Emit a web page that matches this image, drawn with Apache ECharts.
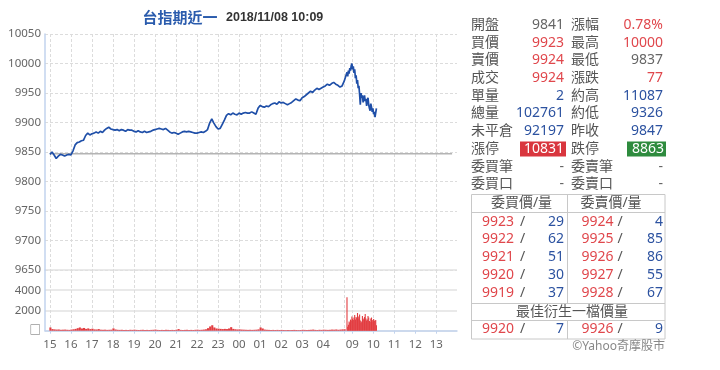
<!DOCTYPE html>
<html><head><meta charset="utf-8">
<script src="https://cdn.jsdelivr.net/npm/echarts@6/dist/echarts.min.js"></script>
<style>html,body{margin:0;padding:0;background:#fff}#c{width:720px;height:370px}</style>
</head><body><div id="c"></div>
<script>
// ---------------- data ----------------
const chartTitle = '台指期近一';
const timestamp = '2018/11/08 10:09';
const prevClose = 9847;
const hourLabels = ['15','16','17','18','19','20','21','22','23','00','01','02','03','04','09','10','11','12','13'];
const priceMin = 9650, priceMax = 10050, priceStep = 50;
const volumeTickValues = [0, 2000, 4000];
const volumeTickLabels = ['□', '2000', '4000'];

// night session 15:00 -> 05:00, one sample every 6 minutes
const nightStart = '15:00', nightStep = 6;
const nightPrice = [
 9846,9850,9845,9839,9843,9846,9845,9843,9845,9846,
 9845,9852,9862,9866,9867,9869,9870,9878,9882,9879,
 9881,9882,9884,9882,9885,9883,9887,9890,9892,9889,
 9888,9887,9888,9886,9888,9887,9885,9888,9887,9887,
 9885,9884,9886,9884,9883,9885,9883,9884,9885,9887,
 9888,9889,9890,9889,9888,9890,9887,9884,9882,9883,
 9882,9880,9882,9884,9885,9884,9885,9884,9883,9882,
 9882,9883,9884,9883,9885,9888,9899,9906,9899,9893,
 9889,9890,9897,9904,9912,9915,9913,9916,9914,9913,
 9916,9914,9916,9917,9916,9916,9918,9916,9914,9924,
 9929,9927,9926,9928,9927,9930,9932,9933,9931,9935,
 9933,9934,9932,9930,9932,9934,9937,9940,9938,9937,
 9942,9944,9947,9950,9953,9951,9955,9958,9956,9958,
 9960,9962,9965,9963,9966,9968,9965,9963,9960,9962,
 9970];
const nightVolume = [
 320,160,130,110,120,90,100,110,90,80,
 110,140,180,250,320,220,270,180,230,160,
 200,130,120,160,100,90,100,80,90,100,
 230,120,90,80,90,70,80,70,90,80,
 100,80,70,80,90,70,80,70,80,90,
 110,80,70,80,70,90,80,70,80,70,
 100,160,80,70,80,90,70,80,70,90,
 100,80,90,110,140,250,420,540,320,220,
 200,180,160,180,160,220,350,180,140,120,
 130,110,100,90,80,90,80,90,100,130,
 320,220,110,90,80,70,80,70,80,70,
 80,70,60,70,60,70,80,70,60,70,
 90,80,70,80,90,110,80,70,90,80,
 100,90,80,90,110,100,120,90,110,130,
 140];

// day session from 08:45, one sample every 2 minutes up to 10:09
const dayStart = '08:45', dayStep = 2;
const dayPrice = [
 9985,9978,9988,9983,9992,9988,9996,10000,9990,9995,
 9984,9990,9975,9980,9966,9972,9958,9962,9948,9930,
 9950,9942,9946,9934,9940,9946,9936,9940,9928,9936,
 9942,9930,9924,9920,9932,9926,9918,9924,9914,9918,
 9909,9907,9924];
const dayVolume = [
 3300,400,600,900,800,1100,1000,1400,1200,1050,
 1300,1550,1100,1350,1250,1750,1400,1200,1600,1000,
 750,900,1450,1200,1100,1350,1650,1200,1000,1100,
 1450,1300,950,850,1200,1300,1050,900,1150,1000,
 950,1050,550];

// quote panel
const quoteLeftLabels  = ['開盤','買價','賣價','成交','單量','總量','未平倉','漲停','委買筆','委買口'];
const quoteLeftValues  = ['9841','9923','9924','9924','2','102761','92197','10831','-','-'];
const quoteRightLabels = ['漲幅','最高','最低','漲跌','約高','約低','昨收','跌停','委賣筆','委賣口'];
const quoteRightValues = ['0.78%','10000','9837','77','11087','9326','9847','8863','-','-'];
const bookHeaders = ['委買價/量','委賣價/量'];
const bidPrices = [9923,9922,9921,9920,9919];
const bidVolumes = [29,62,51,30,37];
const askPrices = [9924,9925,9926,9927,9928];
const askVolumes = [4,85,86,55,67];
const bestTitle = '最佳衍生一檔價量';
const bestBid = [9920, 7];
const bestAsk = [9926, 9];
const credit = '©Yahoo奇摩股市';

// ---------------- styles / helpers ----------------
const RED = '#e0474c', BLUE = '#2c52a0', GRAY = '#666', LABEL = '#555';
const leftTones  = [GRAY, RED, RED, RED, BLUE, BLUE, BLUE, 'box', GRAY, GRAY];
const rightTones = [RED, RED, GRAY, RED, BLUE, BLUE, BLUE, 'box', GRAY, GRAY];
const FONT = '"Noto Sans","Noto Sans CJK TC",sans-serif';
const DAY_OFFSET = 848;
function toT(hhmm) {
  const p = hhmm.split(':').map(Number);
  const mins = p[0] * 60 + p[1];
  if (mins >= 900 || mins <= 300) return (mins - 900 + 1440) % 1440;
  return DAY_OFFSET + mins - 525;
}
const labelTicks = hourLabels.map(h => toT(h + ':00'));
const gridTicks = labelTicks.concat([toT('05:00')]).sort((a, b) => a - b);
const labelMap = {};
hourLabels.forEach(h => { labelMap[toT(h + ':00')] = h; });

const n0 = toT(nightStart), d0 = toT(dayStart);
const priceData = nightPrice.map((v, i) => [n0 + i * nightStep, v])
  .concat(dayPrice.map((v, i) => [d0 + i * dayStep, v]));
const nightVolData = nightVolume.map((v, i) => [n0 + i * nightStep, v]);
const dayVolData = dayVolume.map((v, i) => [d0 + i * dayStep, v]);
const sessionEnd = toT('13:45');

function txt(x, y, text, fill, align, font) {
  return { type: 'text', x: x, y: y, silent: true, z: 10,
    style: { text: String(text), fill: fill, font: font || ('14px ' + FONT),
      align: align, verticalAlign: 'middle', textAlign: align, textVerticalAlign: 'middle' } };
}
function hline(x1, x2, y) { return { type: 'line', silent: true, shape: { x1: x1, y1: y, x2: x2, y2: y }, style: { stroke: '#c8c8c8', lineWidth: 1 } }; }
function vline(x, y1, y2) { return { type: 'line', silent: true, shape: { x1: x, y1: y1, x2: x, y2: y2 }, style: { stroke: '#c8c8c8', lineWidth: 1 } }; }

const g = [];
g.push(txt(142.5, 17, chartTitle, '#2b5cad', 'left', 'bold 15px "Noto Sans CJK TC",sans-serif'));
g.push(txt(226, 18, timestamp, '#333', 'left', 'bold 12.5px "Liberation Sans",Arial,sans-serif'));
for (let i = 0; i < quoteLeftLabels.length; i++) {
  const y = 25 + i * 17.7;
  g.push(txt(471, y, quoteLeftLabels[i], LABEL, 'left'));
  g.push(txt(571, y, quoteRightLabels[i], LABEL, 'left'));
  if (leftTones[i] === 'box') {
    g.push({ type: 'rect', silent: true, shape: { x: 520, y: y - 7.5, width: 46, height: 15 }, style: { fill: '#d9363e' } });
    g.push(txt(564, y, quoteLeftValues[i], '#fff', 'right'));
  } else {
    g.push(txt(564, y, quoteLeftValues[i], leftTones[i], 'right'));
  }
  if (rightTones[i] === 'box') {
    g.push({ type: 'rect', silent: true, shape: { x: 627, y: y - 7.5, width: 39, height: 15 }, style: { fill: '#2e8b3e' } });
    g.push(txt(664, y, quoteRightValues[i], '#fff', 'right'));
  } else {
    g.push(txt(663, y, quoteRightValues[i], rightTones[i], 'right'));
  }
}
g.push({ type: 'rect', silent: true, shape: { x: 471.5, y: 194.5, width: 193.5, height: 144.5 }, style: { fill: 'none', stroke: '#c8c8c8', lineWidth: 1 } });
g.push(hline(471.5, 665, 212.5));
g.push(hline(471.5, 665, 303.5));
g.push(hline(471.5, 665, 320.5));
g.push(vline(567.5, 194.5, 303.5));
g.push(vline(567.5, 320.5, 339));
g.push(txt(521.5, 203.5, bookHeaders[0], LABEL, 'center'));
g.push(txt(611, 203.5, bookHeaders[1], LABEL, 'center'));
for (let i = 0; i < bidPrices.length; i++) {
  const y = 221.7 + i * 17.75;
  g.push(txt(482, y, bidPrices[i], RED, 'left'));
  g.push(txt(522.5, y, '/', LABEL, 'center'));
  g.push(txt(564, y, bidVolumes[i], BLUE, 'right'));
  g.push(txt(581.5, y, askPrices[i], RED, 'left'));
  g.push(txt(620, y, '/', LABEL, 'center'));
  g.push(txt(663, y, askVolumes[i], BLUE, 'right'));
}
g.push(txt(572, 312, bestTitle, LABEL, 'center'));
g.push(txt(482, 329.5, bestBid[0], RED, 'left'));
g.push(txt(522.5, 329.5, '/', LABEL, 'center'));
g.push(txt(564, 329.5, bestBid[1], BLUE, 'right'));
g.push(txt(581.5, 329.5, bestAsk[0], RED, 'left'));
g.push(txt(620, 329.5, '/', LABEL, 'center'));
g.push(txt(663, 329.5, bestAsk[1], BLUE, 'right'));
g.push(txt(665, 347, credit, '#888', 'right', '12px ' + FONT));

// ---------------- chart ----------------
const AXIS_BLUE = '#c2d3ee';
const dashed = { color: '#dcdcdc', type: [3, 2], width: 1 };
const xBase = { type: 'value', min: -14, max: 1162 };
const option = {
  animation: false,
  grid: [
    { left: 45, top: 34, width: 412, height: 236 },
    { left: 45, top: 270, width: 412, height: 60.7 }
  ],
  xAxis: [
    Object.assign({}, xBase, { gridIndex: 0,
      axisLine: { show: false, onZero: false },
      axisTick: { show: false, customValues: gridTicks },
      axisLabel: { show: false, customValues: labelTicks },
      splitLine: { show: true, lineStyle: dashed } }),
    Object.assign({}, xBase, { gridIndex: 1,
      axisLine: { show: true, onZero: false, lineStyle: { color: AXIS_BLUE, width: 1.5 } },
      axisTick: { show: true, length: 3, customValues: gridTicks, lineStyle: { color: AXIS_BLUE } },
      axisLabel: { show: true, customValues: labelTicks, color: GRAY, fontSize: 11.5, fontFamily: FONT, margin: 8,
        formatter: v => (labelMap[v] !== undefined ? labelMap[v] : '') },
      splitLine: { show: true, lineStyle: dashed } })
  ],
  yAxis: [
    { gridIndex: 0, type: 'value', min: priceMin, max: priceMax, interval: priceStep,
      axisLine: { show: true, onZero: false, lineStyle: { color: AXIS_BLUE, width: 1.5 } },
      axisTick: { show: false },
      axisLabel: { color: GRAY, fontSize: 11.5, fontFamily: FONT, margin: 4, formatter: v => String(v) },
      splitLine: { show: true, lineStyle: dashed } },
    { gridIndex: 1, type: 'value', min: 0, max: 6000, interval: 2000,
      axisLine: { show: true, onZero: false, lineStyle: { color: AXIS_BLUE, width: 1.5 } },
      axisTick: { show: false },
      axisLabel: { color: GRAY, fontSize: 11.5, fontFamily: FONT, margin: 4,
        formatter: v => { const k = volumeTickValues.indexOf(v); return k >= 0 ? volumeTickLabels[k] : ''; } },
      splitLine: { show: true, lineStyle: { color: '#e2e2e2', width: 1.5 } } }
  ],
  series: [
    { type: 'line', xAxisIndex: 0, yAxisIndex: 0, silent: true, z: 1,
      data: [[toT(nightStart), prevClose], [sessionEnd, prevClose]],
      symbol: 'none', lineStyle: { color: '#b4b4b4', width: 1.5 } },
    { type: 'line', xAxisIndex: 0, yAxisIndex: 0, silent: true, z: 3,
      data: priceData, symbol: 'none', showSymbol: false,
      lineStyle: { color: '#1f4fa8', width: 1.7 } },
    { type: 'bar', xAxisIndex: 1, yAxisIndex: 1, silent: true,
      data: nightVolData, barWidth: 2.1, barGap: '-100%', itemStyle: { color: '#e23c40' } },
    { type: 'bar', xAxisIndex: 1, yAxisIndex: 1, silent: true,
      data: dayVolData, barWidth: 1.1, barGap: '-100%', itemStyle: { color: '#e23c40' } }
  ],
  graphic: g
};
const chart = echarts.init(document.getElementById('c'));
chart.setOption(option);
</script>
</body></html>
